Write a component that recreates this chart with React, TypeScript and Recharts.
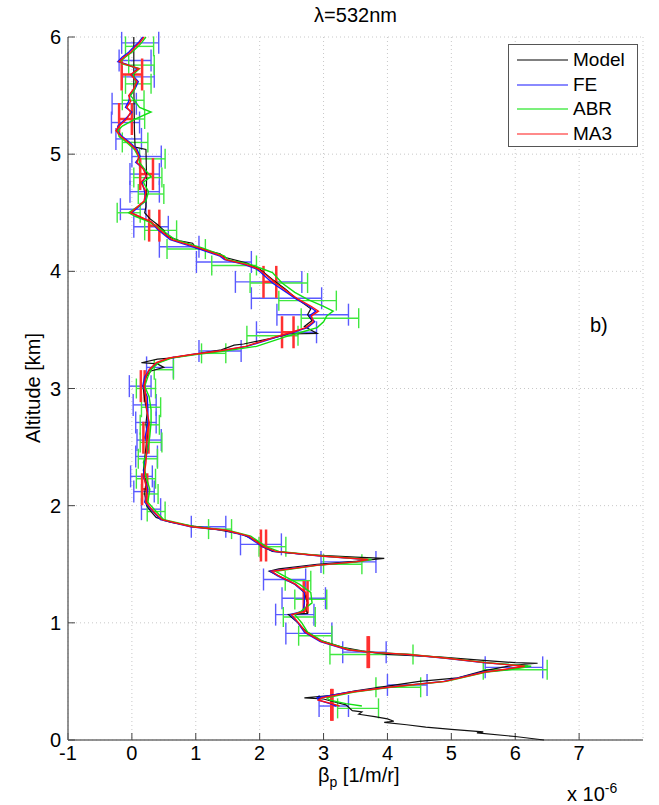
import { ScatterChart, Scatter, XAxis, YAxis, CartesianGrid, ErrorBar } from "recharts";

const FONT = '"Liberation Sans", Arial, sans-serif';

const xTicks = [-1, 0, 1, 2, 3, 4, 5, 6, 7];
const yTicks = [0, 1, 2, 3, 4, 5, 6];

// model profile (beta in 1e-6 1/m/sr, altitude in km)
const modelAlt = [
  6.0, 5.6, 5.2, 5.06, 5.04, 4.8, 4.55, 4.5, 4.45, 4.4,
  4.35, 4.3, 4.26, 4.24, 4.2, 4.16, 4.15, 4.12, 4.07, 4.02,
  3.93, 3.85, 3.78, 3.72, 3.68, 3.63, 3.58, 3.53, 3.47, 3.465,
  3.43, 3.38, 3.37, 3.33, 3.29, 3.26, 3.25, 3.22, 3.21, 3.18,
  3.15, 3.1, 3.0, 2.9, 2.8, 2.7, 2.6, 2.5, 2.4, 2.3,
  2.2, 2.1, 2.0, 1.95, 1.9, 1.86, 1.83, 1.8, 1.76, 1.7,
  1.65, 1.61, 1.58, 1.56, 1.55, 1.53, 1.5, 1.46, 1.44, 1.4,
  1.33, 1.26, 1.17, 1.12, 1.08, 1.07, 1.0, 0.93, 0.85, 0.79,
  0.76, 0.73, 0.71, 0.68, 0.66, 0.655, 0.64, 0.59, 0.53, 0.5,
  0.46, 0.42, 0.38, 0.36, 0.35, 0.32, 0.3, 0.25, 0.24, 0.22,
  0.2, 0.18, 0.16, 0.15, 0.13, 0.11, 0.09, 0.07, 0.06, 0.03,
  0.0,
];
const modelBeta = [
  0.03, 0.03, 0.04, 0.05, 0.22, 0.23, 0.22, 0.2, 0.28, 0.4,
  0.5, 0.55, 0.75, 0.95, 1.0, 1.3, 1.38, 1.45, 1.8, 2.0,
  2.2, 2.4, 2.55, 2.7, 2.8, 2.75, 2.82, 2.7, 2.9, 2.45,
  2.2, 1.75, 1.6, 1.4, 0.95, 0.6, 0.4, 0.15, 0.4, 0.5,
  0.3, 0.22, 0.18, 0.2, 0.24, 0.22, 0.24, 0.22, 0.2, 0.18,
  0.22, 0.2, 0.23, 0.3, 0.38, 0.6, 0.9, 1.3, 1.7, 1.95,
  2.05, 2.2, 2.8, 3.5, 3.95, 3.6, 2.9, 2.3, 2.15, 2.3,
  2.55, 2.7, 2.75, 2.72, 2.75, 2.45, 2.6, 2.72, 2.95, 3.3,
  3.6, 4.0, 4.8, 5.5, 6.0, 6.35, 6.0, 5.5, 5.1, 4.5,
  4.0, 3.5, 3.1, 2.7, 3.0, 3.2, 3.35, 3.45, 3.6, 3.55,
  3.8, 4.0, 4.1, 3.95, 4.3, 4.6, 5.0, 5.5, 5.4, 6.0,
  6.45,
];

// retrieval altitude grid, shared by FE / ABR / MA3
const retAlt = [
  6.0, 5.95, 5.92, 5.87, 5.83, 5.79, 5.77, 5.73, 5.68, 5.62,
  5.56, 5.5, 5.45, 5.4, 5.36, 5.3, 5.24, 5.2, 5.15, 5.1,
  5.04, 4.98, 4.93, 4.87, 4.81, 4.76, 4.68, 4.6, 4.5, 4.47,
  4.42, 4.36, 4.27, 4.2, 4.13, 4.1, 4.06, 4.02, 3.99, 3.9,
  3.82, 3.76, 3.7, 3.66, 3.62, 3.57, 3.52, 3.48, 3.44, 3.36,
  3.32, 3.29, 3.26, 3.22, 3.16, 3.1, 3.02, 2.93, 2.82, 2.71,
  2.59, 2.48, 2.37, 2.25, 2.14, 2.03, 1.95, 1.88, 1.82, 1.79,
  1.74, 1.65, 1.61, 1.57, 1.54, 1.52, 1.49, 1.44, 1.4, 1.33,
  1.26, 1.17, 1.1, 1.07, 1.0, 0.92, 0.84, 0.77, 0.75, 0.73,
  0.7, 0.66, 0.63, 0.6, 0.58, 0.5, 0.45, 0.41, 0.36, 0.34,
  0.31, 0.29,
];
const feBeta = [
  0.17, 0.1, 0.04, -0.05, -0.15, -0.22, -0.1, 0.08, 0.0, 0.1,
  0.05, -0.03, -0.05, -0.1, 0.0, -0.1, -0.22, -0.23, -0.15, -0.03,
  0.08, 0.13, 0.06, 0.2, 0.22, 0.16, 0.2, 0.21, 0.0, 0.1,
  0.3, 0.4, 0.6, 1.0, 1.38, 1.45, 1.75, 1.95, 2.02, 2.2,
  2.42, 2.58, 2.78, 2.88, 2.78, 2.86, 2.75, 2.52, 2.28, 1.8,
  1.38, 0.95, 0.6, 0.4, 0.28, 0.2, 0.17, 0.24, 0.25, 0.25,
  0.21, 0.25, 0.2, 0.18, 0.25, 0.2, 0.33, 0.45, 0.92, 1.45,
  1.8, 2.04, 2.22, 2.95, 3.68, 3.5, 2.86, 2.17, 2.28, 2.55,
  2.7, 2.7, 2.68, 2.48, 2.6, 2.7, 2.95, 3.37, 3.68, 4.3,
  4.88, 5.5, 6.2, 5.85, 5.5, 4.88, 4.0, 3.42, 2.9, 2.92,
  3.1, 3.2,
];
const abrBeta = [
  0.22, 0.15, 0.1, 0.0, -0.1, -0.18, -0.15, 0.12, 0.02, 0.06,
  0.05, -0.02, 0.05, 0.12, 0.3, 0.05, -0.15, -0.22, -0.2, -0.08,
  0.04, 0.1, 0.12, 0.2, 0.3, 0.18, 0.26, 0.22, -0.05, 0.05,
  0.28, 0.45, 0.68, 1.1, 1.45, 1.5, 1.85, 2.05, 2.2, 2.35,
  2.55, 2.75, 3.0, 3.15, 3.05, 3.0, 2.9, 2.65, 2.4, 1.95,
  1.45, 1.0, 0.62, 0.42, 0.3, 0.25, 0.2, 0.27, 0.3, 0.3,
  0.28, 0.25, 0.18, 0.22, 0.28, 0.25, 0.38, 0.5, 0.98, 1.5,
  1.86, 2.1, 2.3, 3.0, 3.75, 3.55, 2.9, 2.25, 2.38, 2.62,
  2.8, 2.82, 2.65, 2.55, 2.66, 2.75, 3.0, 3.42, 3.72, 4.35,
  4.92, 5.55, 6.25, 5.9, 5.55, 4.92, 4.05, 3.48, 3.05, 3.1,
  3.35, 3.6,
];
const ma3Beta = [
  0.19, 0.12, 0.06, -0.02, -0.12, -0.2, -0.12, 0.11, -0.02, 0.08,
  0.03, -0.05, -0.02, -0.08, -0.02, -0.08, -0.2, -0.25, -0.17, -0.05,
  0.06, 0.11, 0.08, 0.18, 0.23, 0.14, 0.22, 0.19, -0.02, 0.11,
  0.31, 0.42, 0.63, 1.05, 1.41, 1.47, 1.78, 1.98, 2.05, 2.25,
  2.45, 2.61, 2.81, 2.92, 2.81, 2.84, 2.72, 2.5, 2.25, 1.78,
  1.36, 0.94, 0.58, 0.38, 0.27, 0.22, 0.19, 0.22, 0.23, 0.27,
  0.23, 0.23, 0.22, 0.19, 0.23, 0.22, 0.34, 0.47, 0.94, 1.47,
  1.83, 2.06, 2.25, 2.97, 3.7, 3.5, 2.88, 2.19, 2.3, 2.56,
  2.72, 2.75, 2.72, 2.5, 2.61, 2.72, 2.97, 3.39, 3.7, 4.33,
  4.9, 5.53, 6.15, 5.8, 5.53, 4.9, 4.02, 3.44, 2.97, 2.92,
  3.13, 3.25,
];

// error bars: altitude, centre, half width
const feErrAlt = [5.95, 5.8, 5.66, 5.43, 5.27, 5.13, 4.98, 4.83, 4.68, 4.53, 4.38, 4.21, 4.08, 3.91, 3.77, 3.63, 3.48, 3.32, 3.18, 3.02, 2.86, 2.71, 2.56, 2.42, 2.25, 2.12, 1.97, 1.82, 1.67, 1.52, 1.37, 1.21, 1.07, 0.91, 0.75, 0.62, 0.47, 0.29];
const feErrMid = [0.13, 0.05, 0.1, -0.12, -0.1, -0.05, 0.23, 0.2, 0.2, 0.02, 0.3, 0.74, 1.44, 2.14, 2.42, 2.83, 2.42, 1.38, 0.44, 0.13, 0.2, 0.22, 0.27, 0.23, 0.15, 0.19, 0.3, 1.2, 2.02, 3.39, 2.39, 2.69, 2.55, 2.77, 3.64, 5.98, 4.31, 3.16];
const feErrHalf = [0.29, 0.25, 0.25, 0.19, 0.22, 0.2, 0.23, 0.23, 0.23, 0.2, 0.27, 0.31, 0.43, 0.52, 0.55, 0.56, 0.47, 0.33, 0.21, 0.17, 0.18, 0.16, 0.19, 0.17, 0.17, 0.16, 0.15, 0.27, 0.32, 0.43, 0.33, 0.34, 0.3, 0.36, 0.34, 0.45, 0.31, 0.23];

const abrErrAlt = [5.92, 5.76, 5.6, 5.46, 5.3, 5.1, 4.96, 4.8, 4.66, 4.5, 4.35, 4.19, 4.05, 3.9, 3.75, 3.6, 3.45, 3.3, 3.16, 3.0, 2.84, 2.69, 2.54, 2.4, 2.23, 2.1, 1.95, 1.8, 1.65, 1.5, 1.36, 1.2, 1.05, 0.89, 0.73, 0.6, 0.45, 0.27];
const abrErrMid = [0.12, 0.15, 0.1, 0.02, 0.0, 0.05, 0.32, 0.25, 0.3, -0.05, 0.45, 0.85, 1.6, 2.3, 2.75, 3.1, 2.2, 1.28, 0.5, 0.22, 0.3, 0.28, 0.3, 0.25, 0.22, 0.28, 0.38, 1.38, 2.2, 3.3, 2.6, 2.8, 2.62, 2.87, 3.75, 6.0, 4.17, 3.54];
const abrErrHalf = [0.22, 0.2, 0.2, 0.17, 0.2, 0.2, 0.2, 0.22, 0.2, 0.18, 0.25, 0.3, 0.35, 0.45, 0.45, 0.45, 0.4, 0.19, 0.15, 0.15, 0.15, 0.15, 0.17, 0.15, 0.15, 0.13, 0.14, 0.18, 0.21, 0.3, 0.2, 0.25, 0.25, 0.26, 0.65, 0.5, 0.35, 0.32];

const ma3ErrAlt = [5.68, 5.3, 4.83, 4.39, 3.91, 3.48, 3.02, 2.58, 2.14, 1.66, 1.22, 0.75, 0.3];
const ma3ErrMid = [0.0, -0.1, 0.23, 0.35, 2.16, 2.44, 0.17, 0.22, 0.2, 2.06, 2.72, 3.7, 3.13];
const ma3ErrHalf = [0.16, 0.1, 0.1, 0.08, 0.1, 0.09, 0.03, 0.04, 0.04, 0.04, 0.03, 0.01, 0.01];

const toPoints = (alt: number[], beta: number[]) =>
  alt.map((y, i) => ({ x: beta[i], y }));
const toErr = (alt: number[], mid: number[], half: number[]) =>
  alt.map((y, i) => ({ x: mid[i], y, err: half[i] }));

const series = [
  { name: "Model", color: "#111111", lw: 1.2, points: toPoints(modelAlt, modelBeta) },
  { name: "FE", color: "#1414ff", lw: 1.4, points: toPoints(retAlt, feBeta) },
  { name: "ABR", color: "#12e012", lw: 1.4, points: toPoints(retAlt, abrBeta) },
  { name: "MA3", color: "#ff1212", lw: 1.4, points: toPoints(retAlt, ma3Beta) },
];

const errSets = [
  { key: "fe", color: "#5a5aff", cap: 11, width: 1.4, points: toErr(feErrAlt, feErrMid, feErrHalf) },
  { key: "abr", color: "#40e840", cap: 10, width: 1.4, points: toErr(abrErrAlt, abrErrMid, abrErrHalf) },
  { key: "ma3", color: "#ff3030", cap: 16, width: 2.5, points: toErr(ma3ErrAlt, ma3ErrMid, ma3ErrHalf) },
];

const legendColors = ["#808080", "#8a8aff", "#7cf07c", "#ff8a8a"];

const NoDot = () => null;

const tickStyle = { fontSize: 20, fill: "#000", fontFamily: FONT };
const axisLine = { stroke: "#6e6e6e", strokeWidth: 1.5 };
const tickLine = { stroke: "#444", strokeWidth: 1 };

function LegendBox() {
  return (
    <div
      style={{
        position: "absolute",
        left: 508,
        top: 44,
        width: 128,
        height: 101,
        border: "1px solid #555",
        background: "#fff",
        fontFamily: FONT,
        fontSize: 19,
      }}
    >
      {series.map((s, i) => (
        <div
          key={s.name}
          style={{ position: "absolute", left: 8, top: 4 + i * 24.5, height: 22, display: "flex", alignItems: "center" }}
        >
          <div style={{ width: 51, height: 0, borderTop: `2px solid ${legendColors[i]}` }} />
          <span style={{ marginLeft: 5 }}>{s.name}</span>
        </div>
      ))}
    </div>
  );
}

export default function App() {
  return (
    <div style={{ position: "absolute", left: 0, top: 0, width: 659, height: 805, background: "#fff", fontFamily: FONT }}>
      <ScatterChart width={659} height={805} margin={{ top: 37, right: 16, bottom: 35, left: 8 }}>
        <CartesianGrid stroke="#c8c8c8" strokeDasharray="1 3" />
        <XAxis
          dataKey="x"
          type="number"
          domain={[-1, 8]}
          ticks={xTicks}
          height={30}
          tickSize={-7}
          tickMargin={13}
          tick={tickStyle}
          axisLine={axisLine}
          tickLine={tickLine}
        />
        <YAxis
          dataKey="y"
          type="number"
          domain={[0, 6]}
          ticks={yTicks}
          width={60}
          tickSize={-7}
          tickMargin={14}
          tick={tickStyle}
          axisLine={axisLine}
          tickLine={tickLine}
        />
        <XAxis
          xAxisId="top"
          orientation="top"
          dataKey="x"
          type="number"
          domain={[-1, 8]}
          ticks={xTicks}
          height={0}
          tickSize={-7}
          tickFormatter={() => ""}
          axisLine={axisLine}
          tickLine={tickLine}
        />
        <YAxis
          yAxisId="right"
          orientation="right"
          dataKey="y"
          type="number"
          domain={[0, 6]}
          ticks={yTicks}
          width={0}
          tickSize={-7}
          tickFormatter={() => ""}
          axisLine={axisLine}
          tickLine={tickLine}
        />
        <Scatter
          data={series[0].points}
          xAxisId="top"
          yAxisId="right"
          shape={NoDot}
          isAnimationActive={false}
          legendType="none"
        />
        {errSets.map((e) => (
          <Scatter key={e.key} data={e.points} shape={NoDot} isAnimationActive={false}>
            <ErrorBar dataKey="err" direction="x" width={e.cap} stroke={e.color} strokeWidth={e.width} isAnimationActive={false} />
          </Scatter>
        ))}
        {series.map((s) => (
          <Scatter
            key={s.name}
            name={s.name}
            data={s.points}
            line={{ stroke: s.color, strokeWidth: s.lw }}
            lineType="joint"
            shape={NoDot}
            isAnimationActive={false}
          />
        ))}
      </ScatterChart>

      <div style={{ position: "absolute", left: 0, width: 711, top: 4, textAlign: "center", fontSize: 20 }}>λ=532nm</div>
      <div
        style={{
          position: "absolute",
          left: 33,
          top: 388,
          transform: "translate(-50%, -50%) rotate(-90deg)",
          whiteSpace: "nowrap",
          fontSize: 20,
        }}
      >
        Altitude [km]
      </div>
      <div style={{ position: "absolute", left: 318, top: 764, fontSize: 20, whiteSpace: "nowrap" }}>
        β<sub style={{ fontSize: 14 }}>p</sub> [1/m/r]
      </div>
      <div style={{ position: "absolute", left: 567, top: 780, fontSize: 20, whiteSpace: "nowrap" }}>
        x 10<sup style={{ fontSize: 14 }}>-6</sup>
      </div>
      <div style={{ position: "absolute", left: 590, top: 314, fontSize: 20 }}>b)</div>
      <LegendBox />
    </div>
  );
}
